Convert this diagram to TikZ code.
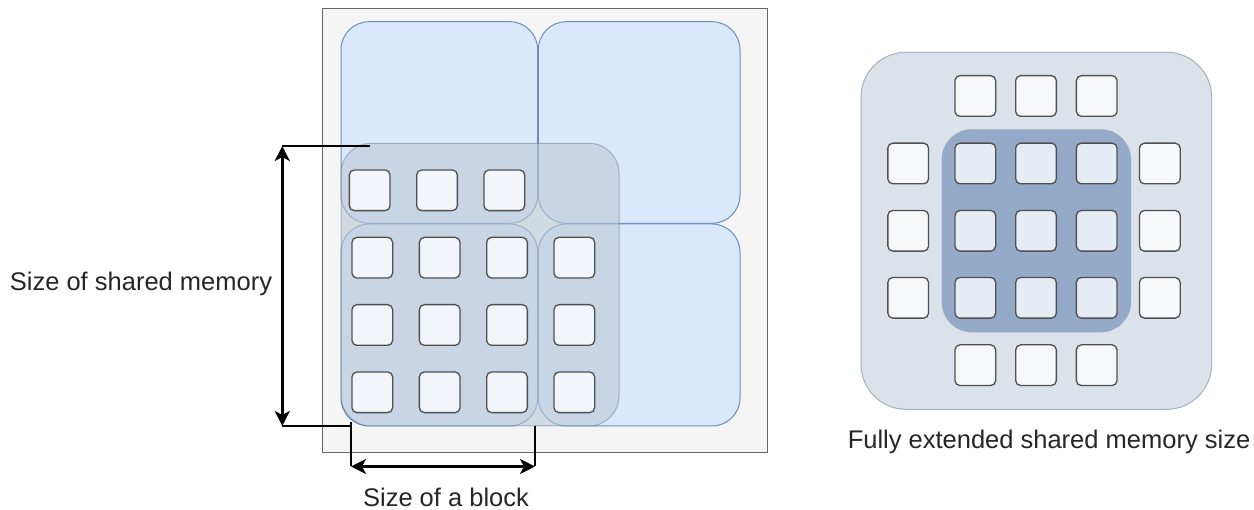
\documentclass[tikz,border=0pt]{standalone}
\usepackage{fontspec}
\setmainfont{Liberation Sans}
\usetikzlibrary{arrows.meta}

\definecolor{panelfill}{HTML}{F5F5F5}
\definecolor{panelline}{HTML}{666666}
\definecolor{blockfill}{HTML}{DAE8FC}
\definecolor{blockline}{HTML}{6C8EBF}
\definecolor{shmfill}{HTML}{BAC8D3}
\definecolor{shmline}{HTML}{23445D}
\definecolor{cellline}{HTML}{505050}
\definecolor{cellfill}{HTML}{F2F5F9}
\definecolor{halofill}{HTML}{F7F8FA}
\definecolor{corecell}{HTML}{E6ECF3}
\definecolor{extfill}{HTML}{DBE2E9}
\definecolor{extline}{HTML}{A3B3C4}
\definecolor{corefill}{HTML}{94AAC8}

\tikzset{
  panel/.style={draw=panelline, fill=panelfill, line width=1pt},
  blockbox/.style={draw=blockline, fill=blockfill, line width=1pt, rounded corners=28pt,
    rectangle, inner sep=0pt, minimum width=#1},
  shmbox/.style={fill=shmfill, fill opacity=0.58, draw=shmline, draw opacity=0.3,
    line width=1pt, rounded corners=30pt, rectangle, inner sep=0pt},
  cell/.style={rectangle, draw=cellline, line width=1.3pt, rounded corners=5pt,
    minimum width=40.7pt, minimum height=40.7pt, inner sep=0pt, fill=#1},
  cell/.default=cellfill,
  dimline/.style={line width=2.5pt, draw=black},
  dimarrow/.style={dimline, {Stealth[length=15pt,width=15pt,inset=4pt]}-{Stealth[length=15pt,width=15pt,inset=4pt]}},
  label/.style={font=\fontsize{25.5pt}{30pt}\selectfont, text=black!85, inner sep=0pt},
}

\begin{document}
\begin{tikzpicture}[x=1pt,y=-1pt]
\useasboundingbox (0,0) rectangle (1254,510);

% ---- grid of blocks ----
\node[panel, rectangle, inner sep=0pt, minimum width=445pt, minimum height=444.4pt] (grid) at (544.7,230.5) {};

\node[blockbox=196.7pt, minimum height=201.6pt] (b11) at (439.35,122.5) {};
\node[blockbox=201.7pt, minimum height=201.6pt] (b12) at (639.15,122.5) {};
\node[blockbox=196.7pt, minimum height=202pt] (b21) at (439.35,325) {};
\node[blockbox=201.7pt, minimum height=202pt] (b22) at (639.15,325) {};

% shared memory region of one block, with halo
\node[shmbox, minimum width=278pt, minimum height=282.7pt] (shm) at (480,284.65) {};

% threads
\foreach \x [count=\i] in {369.7,437,504.3}
  \node[cell] (t0\i) at (\x,190.3) {};
\foreach \y [count=\j] in {257.7,325,392.3}
  \foreach \x [count=\i] in {372.3,439.7,507,574.3}
    \node[cell] (t\j\i) at (\x,\y) {};

% dimension: size of shared memory
\coordinate (smT) at (370,146);
\coordinate (smTa) at (282.3,146);
\coordinate (smB) at (351,426);
\coordinate (smBa) at (282.3,426);
\draw[dimline] (smT) -- (smTa);
\draw[dimline] (smB) -- (smBa);
\draw[dimarrow] (smTa) -- (smBa);
\node[label] (smlabel) at (141,284) {Size of shared memory};

% dimension: size of a block
\coordinate (bkL) at (351,422);
\coordinate (bkLa) at (351,466.5);
\coordinate (bkR) at (535,426);
\coordinate (bkRa) at (535,466.5);
\draw[dimline] (bkL) -- (bkLa);
\draw[dimline] (bkR) -- (bkRa);
\draw[dimarrow] (bkLa) -- (bkRa);
\node[label] (bklabel) at (446,497) {Size of a block};

% ---- fully extended shared memory ----
\node[rectangle, fill=extfill, draw=extline, line width=1pt, rounded corners=45pt,
  minimum width=350.7pt, minimum height=357pt, inner sep=0pt] (ext) at (1036.35,230.8) {};
\node[rectangle, fill=corefill, rounded corners=30pt,
  minimum width=189.3pt, minimum height=203pt, inner sep=0pt] (core) at (1036.35,230.8) {};

\def\cx{{908.2,975.3,1036,1096.7,1159.8}}
\def\ry{{96,163.5,230.8,297.8,365.2}}
% halo rows (top and bottom)
\foreach \i in {1,2,3} {
  \node[cell=halofill] (h0\i) at ({\cx[\i]},{\ry[0]}) {};
  \node[cell=halofill] (h4\i) at ({\cx[\i]},{\ry[4]}) {};
}
% halo columns and core cells
\foreach \j in {1,2,3} {
  \node[cell=halofill] (h\j0) at ({\cx[0]},{\ry[\j]}) {};
  \node[cell=halofill] (h\j4) at ({\cx[4]},{\ry[\j]}) {};
  \foreach \i in {1,2,3}
    \node[cell=corecell] (c\j\i) at ({\cx[\i]},{\ry[\j]}) {};
}
\node[label] (extlabel) at (1049,442) {Fully extended shared memory size};
\end{tikzpicture}
\end{document}
